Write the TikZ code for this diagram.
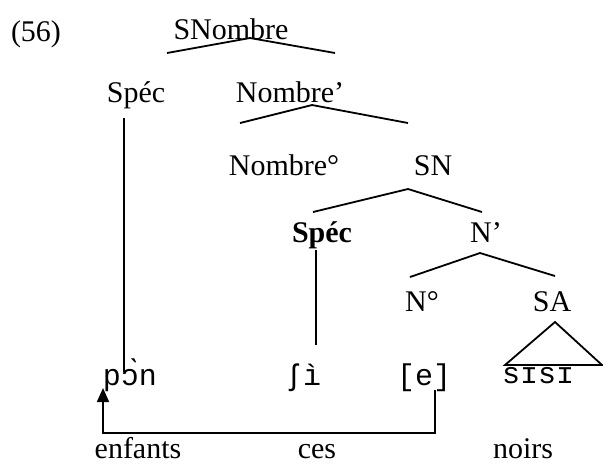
\documentclass[tikz,border=0pt]{standalone}
\usepackage{fontspec}
\setmainfont{Liberation Serif}
\newfontfamily\monof{Liberation Mono}
\usetikzlibrary{arrows.meta}
\tikzset{
  lab/.style={inner sep=0pt, anchor=base, font=\fontsize{15}{17}\selectfont},
  wd/.style={inner sep=0pt, anchor=base, font=\monof\fontsize{15}{17}\selectfont},
  br/.style={line width=0.9pt},
}
\begin{document}
\begin{tikzpicture}[x=0.5pt,y=-0.5pt]
\useasboundingbox (0,0) rectangle (603,463);
% labels
\node[lab] (n56) at (36,41) {(56)};
\node[lab] (snombre) at (231,39) {SNombre};
\node[lab] (spec1) at (136,102) {Spéc};
\node[lab] (nombrep) at (290,102) {Nombre'};
\node[lab] (nombre0) at (284,175) {Nombre°};
\node[lab] (sn) at (433,175) {SN};
\node[lab] (spec2) at (322,242) {\bfseries Spéc};
\node[lab] (nprime) at (486,242) {N'};
\node[lab] (n0) at (422,311) {N°};
\node[lab] (sa) at (552,311) {SA};
\node[wd] (w1) at (130,385) {pɔ̀n};
\node[wd] (w2) at (303,385) {ʃì};
\node[wd] (w3) at (424,385) {[e]};
\node[wd] (w4) at (538,383) {sɪsɪ};
\node[lab] (g1) at (138,458) {enfants};
\node[lab] (g2) at (317,458) {ces};
\node[lab] (g3) at (523,458) {noirs};
% branch coordinates
\coordinate (a1) at (250,38); \coordinate (a1l) at (167,53); \coordinate (a1r) at (335,53);
\coordinate (a2) at (312,105); \coordinate (a2l) at (240,123); \coordinate (a2r) at (408,123);
\coordinate (a3) at (408,189); \coordinate (a3l) at (313,212); \coordinate (a3r) at (482,212);
\coordinate (a4) at (480,253); \coordinate (a4l) at (410,277); \coordinate (a4r) at (555,276);
\coordinate (t1) at (555,322); \coordinate (t2) at (505,365); \coordinate (t3) at (602,365);
\coordinate (v1a) at (124,118); \coordinate (v1b) at (124,372);
\coordinate (v2a) at (316,250); \coordinate (v2b) at (316,345);
\coordinate (e1) at (435,390); \coordinate (e2) at (435,433);
\coordinate (p1) at (103,433); \coordinate (p2) at (103,388);
\draw[br] (a1l) -- (a1) -- (a1r);
\draw[br] (a2l) -- (a2) -- (a2r);
\draw[br] (a3l) -- (a3) -- (a3r);
\draw[br] (a4l) -- (a4) -- (a4r);
\draw[br] (t2) -- (t1) -- (t3) -- cycle;
\draw[br] (v1a) -- (v1b);
\draw[br] (v2a) -- (v2b);
\draw[br, -{Triangle[width=6pt,length=7pt]}] (e1) -- (e2) -- (p1) -- (p2);
\end{tikzpicture}
\end{document}
